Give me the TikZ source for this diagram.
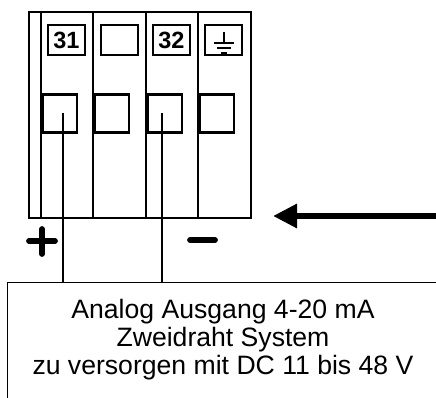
\documentclass[tikz,border=0pt]{standalone}
\usepackage{fontspec}
\setmainfont{Liberation Sans}
\usetikzlibrary{arrows.meta,positioning}

\tikzset{
  blk/.style={line width=2.9pt},
  tag/.style={draw, line width=2.9pt, minimum width=37pt, minimum height=30pt, inner sep=0pt, font=\fontsize{23.5}{25}\selectfont\bfseries},
  clamp/.style={draw, line width=2.9pt, anchor=north west, minimum width=34.5pt, minimum height=38pt, inner sep=0pt},
  wire/.style={line width=1.4pt},
  sign/.style={line width=5.8pt, line cap=round},
  pointer/.style={line width=6.5pt, -{Triangle[length=24pt,width=23pt]}},
  frame/.style={draw, line width=1.4pt, anchor=north west, minimum width=460pt, minimum height=140pt, inner sep=0pt},
  label/.style={align=center, inner sep=0pt, font=\fontsize{26.6}{28}\selectfont}
}

\begin{document}
\begin{tikzpicture}[x=1pt,y=-1pt]
\clip (0,0) rectangle (436,398);

% terminal block
\draw[blk] (29,12) rectangle (251,218);
\draw[blk] (41,12)--(41,218);
\draw[blk] (93,12)--(93,218);
\draw[blk] (146,12)--(146,218);
\draw[blk] (198,12)--(198,218);

% labels on top
\node[tag] (t31) at (66.5,40) {31};
\node[tag] (tfree) at (119.5,40) {};
\node[tag] (t32) at (171.5,40) {32};
\node[tag] (tpe) at (223.5,40) {};
\draw[line width=2pt] (224,32)--(224,43);
\draw[line width=2pt] (214,43)--(234,43);
\draw[line width=2pt] (217,48)--(231,48);
\draw[line width=2.4pt] (221,53)--(227,53);

% clamps
\node[clamp] (c1) at (41,93) {};
\node[clamp] (c2) at (93,93) {};
\node[clamp] (c3) at (146,93) {};
\node[clamp] (c4) at (198,93) {};

% polarity
\draw[sign] (29,241)--(55,241);
\draw[sign] (42,229)--(42,254);
\draw[sign] (190,240)--(215,240);

% arrow
\coordinate (arrowstart) at (445,216);
\coordinate (arrowend) at (273,216);
\draw[pointer] (arrowstart)--(arrowend);

% text box
\node[frame] (box) at (7,282) {};
\node[label] (txt) at (223,340) {Analog Ausgang 4-20 mA\\Zweidraht System\\zu versorgen mit DC 11 bis 48 V};

\coordinate (w1) at (63,113);
\coordinate (w2) at (162,113);
\draw[wire] (w1)--(w1 |- box.north);
\draw[wire] (w2)--(w2 |- box.north);
\end{tikzpicture}
\end{document}
